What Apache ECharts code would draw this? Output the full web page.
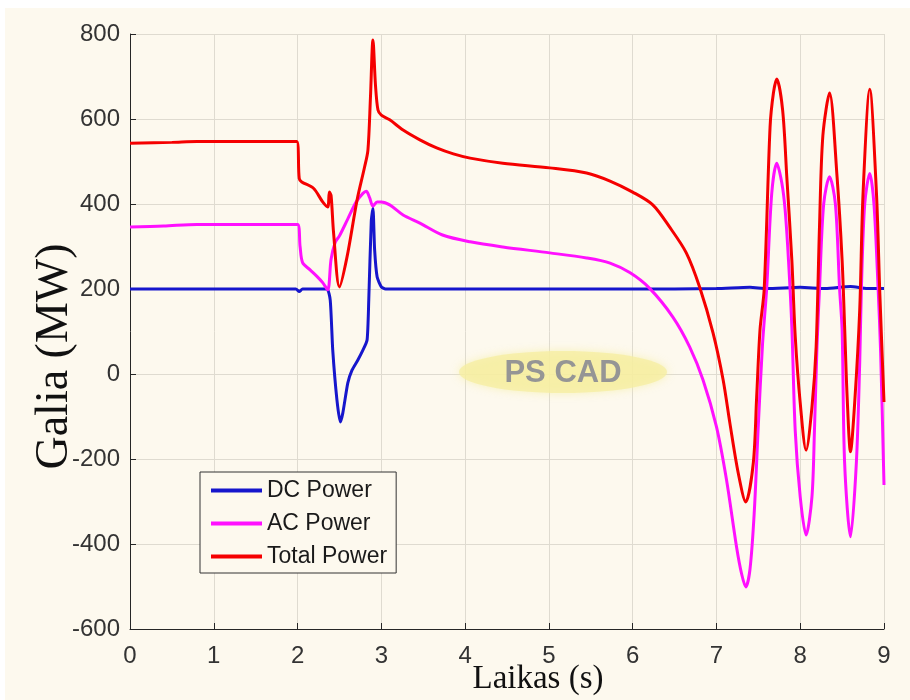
<!DOCTYPE html>
<html>
<head>
<meta charset="utf-8">
<title>Galia</title>
<script src="https://cdn.jsdelivr.net/npm/echarts@6/dist/echarts.min.js"></script>
<style>
  html, body { margin: 0; padding: 0; background: #ffffff; }
  #chart { width: 910px; height: 700px; }
</style>
</head>
<body>
<div id="chart"></div>
<script>
// serijų pavadinimai
var seriesNames = ['DC Power', 'AC Power', 'Total Power'];

// DC galia
var dcTime = [0, 0.5, 1, 1.5, 1.98, 2.02, 2.06, 2.2, 2.35, 2.39, 2.42, 2.47, 2.51, 2.54, 2.6, 2.65, 2.72, 2.78, 2.83, 2.85, 2.88, 2.9, 2.92, 2.95, 3.0, 3.05, 3.5, 4, 5, 6, 7, 7.4, 7.6, 8.0, 8.3, 8.6, 8.8, 9];
var dcValues = [200, 200, 200, 200, 200, 194, 200, 200, 200, 174, 56, -61, -113, -92, -21, 9, 33, 56, 80, 174, 360, 390, 292, 228, 205, 200, 200, 200, 200, 200, 201, 204, 201, 204, 201, 206, 201, 201];

// AC galia
var acTime = [0, 0.4, 0.8, 1.5, 2.0, 2.03, 2.06, 2.15, 2.24, 2.3, 2.36, 2.4, 2.45, 2.5, 2.6, 2.7, 2.78, 2.82, 2.86, 2.9, 2.95, 3.0, 3.1, 3.26, 3.46, 3.73, 4.06, 4.45, 5.01, 5.45, 5.73, 5.97, 6.2, 6.48, 6.68, 6.84, 7.0, 7.12, 7.24, 7.3, 7.35, 7.4, 7.45, 7.5, 7.55, 7.6, 7.66, 7.72, 7.78, 7.82, 7.86, 7.9, 7.94, 8.0, 8.07, 8.14, 8.17, 8.2, 8.23, 8.28, 8.35, 8.42, 8.47, 8.5, 8.53, 8.6, 8.67, 8.71, 8.73, 8.77, 8.83, 8.88, 8.93, 8.96, 9.0];
var acValues = [346, 348, 352, 352, 352, 300, 262, 245, 228, 215, 198, 270, 310, 325, 365, 405, 425, 430, 415, 395, 405, 405, 398, 374, 355, 327, 311, 299, 285, 273, 261, 238, 202, 134, 64, -14, -124, -249, -407, -470, -501, -460, -330, -120, 70, 202, 425, 496, 450, 386, 268, 111, -132, -289, -379, -289, -132, 64, 200, 400, 464, 400, 200, 104, -209, -383, -209, 26, 200, 400, 472, 400, 200, 50, -261];

// bendra galia
var totalTime = [0, 0.5, 0.8, 1.5, 1.99, 2.02, 2.05, 2.19, 2.3, 2.36, 2.38, 2.4, 2.43, 2.5, 2.59, 2.71, 2.8, 2.84, 2.87, 2.9, 2.93, 2.96, 3.0, 3.1, 3.26, 3.46, 3.66, 3.86, 4.06, 4.45, 5.01, 5.45, 5.73, 6.0, 6.24, 6.44, 6.64, 6.8, 6.96, 7.08, 7.16, 7.26, 7.35, 7.44, 7.48, 7.52, 7.57, 7.64, 7.68, 7.72, 7.79, 7.84, 7.9, 7.94, 8.0, 8.07, 8.14, 8.19, 8.23, 8.27, 8.35, 8.44, 8.5, 8.53, 8.56, 8.6, 8.65, 8.71, 8.75, 8.83, 8.91, 8.95, 9.0];
var totalValues = [543, 545, 547, 547, 547, 460, 452, 437, 405, 393, 428, 420, 332, 205, 275, 409, 487, 527, 650, 786, 680, 621, 609, 598, 574, 551, 532, 518, 508, 496, 485, 473, 454, 428, 398, 346, 285, 204, 96, -14, -115, -233, -301, -209, -54, 104, 200, 581, 661, 694, 621, 463, 268, 90, -68, -179, -78, 64, 346, 560, 661, 463, 268, 111, -54, -183, -68, 150, 425, 670, 425, 190, -66];

// ašių žymės
var xTicks = [0, 1, 2, 3, 4, 5, 6, 7, 8, 9];
var yTicks = [-600, -400, -200, 0, 200, 400, 600, 800];

function pairs(t, v) {
  return t.map(function (x, i) { return [x, v[i]]; });
}

var chart = echarts.init(document.getElementById('chart'));

var option = {
  backgroundColor: '#fdf9ee',
  animation: false,
  textStyle: { fontFamily: 'Liberation Sans, Arial, sans-serif' },
  grid: { left: 130, right: 26, top: 34, bottom: 71, outerBoundsMode: 'none' },
  legend: {
    orient: 'vertical',
    left: 200,
    top: 472,
    padding: [7, 9, 5, 11],
    itemGap: 10,
    itemWidth: 51,
    itemHeight: 4,
    icon: 'rect',
    borderColor: '#333',
    borderWidth: 1,
    backgroundColor: '#fdf9ee',
    textStyle: { fontSize: 23, color: '#1a1a1a', fontFamily: 'Liberation Sans, Arial, sans-serif' },
    data: seriesNames
  },
  xAxis: {
    type: 'value',
    min: xTicks[0],
    max: xTicks[xTicks.length - 1],
    interval: 1,
    name: 'Laikas (s)',
    nameLocation: 'middle',
    nameGap: 34,
    nameMoveOverlap: false,
    nameTextStyle: { fontFamily: 'Liberation Serif, Times New Roman, serif', fontSize: 33, color: '#111', padding: [0, 0, 0, 62] },
    axisLine: { onZero: false, lineStyle: { color: '#262626', width: 1 } },
    axisTick: { inside: true, length: 6, lineStyle: { color: '#262626' } },
    axisLabel: { fontSize: 24, color: '#333', margin: 15 },
    splitLine: { show: true, lineStyle: { color: '#dfdbd0' } }
  },
  yAxis: {
    type: 'value',
    min: yTicks[0],
    max: yTicks[yTicks.length - 1],
    interval: 200,
    name: 'Galia (MW)',
    nameLocation: 'middle',
    nameGap: 52,
    nameMoveOverlap: false,
    nameRotate: 90,
    nameTextStyle: { fontFamily: 'Liberation Serif, Times New Roman, serif', fontSize: 46, color: '#111', padding: [0, 50, 0, 0] },
    axisLine: { show: true, onZero: false, lineStyle: { color: '#262626', width: 1 } },
    axisTick: { show: true, inside: true, length: 6, lineStyle: { color: '#262626' } },
    axisLabel: { fontSize: 24, color: '#333', margin: 10 },
    splitLine: { show: true, lineStyle: { color: '#dfdbd0' } }
  },
  graphic: [
    { type: 'rect', shape: { x: 0, y: 0, width: 910, height: 8 }, style: { fill: '#ffffff' }, z: -1 },
    { type: 'rect', shape: { x: 0, y: 0, width: 5, height: 700 }, style: { fill: '#ffffff' }, z: -1 },
    {
      type: 'ellipse',
      shape: { cx: 563, cy: 372, rx: 104, ry: 21 },
      style: { fill: 'rgba(246, 238, 160, 0.75)', shadowBlur: 8, shadowColor: 'rgba(246, 238, 160, 0.9)' },
      z: 1
    },
    {
      type: 'text',
      x: 563, y: 373,
      style: {
        text: 'PS CAD',
        fill: '#959595',
        font: 'bold 31px "Liberation Sans Narrow", "Liberation Sans", Arial',
        align: 'center',
        verticalAlign: 'middle'
      },
      z: 2
    }
  ],
  series: [
    {
      name: seriesNames[0], type: 'line', showSymbol: false, smooth: 0.2,
      color: '#1616cc', lineStyle: { width: 3 },
      data: pairs(dcTime, dcValues)
    },
    {
      name: seriesNames[1], type: 'line', showSymbol: false, smooth: 0.3,
      color: '#ff10ff', lineStyle: { width: 3 },
      data: pairs(acTime, acValues)
    },
    {
      name: seriesNames[2], type: 'line', showSymbol: false, smooth: 0.3,
      color: '#f50000', lineStyle: { width: 3 },
      data: pairs(totalTime, totalValues)
    }
  ]
};

chart.setOption(option);
</script>
</body>
</html>
